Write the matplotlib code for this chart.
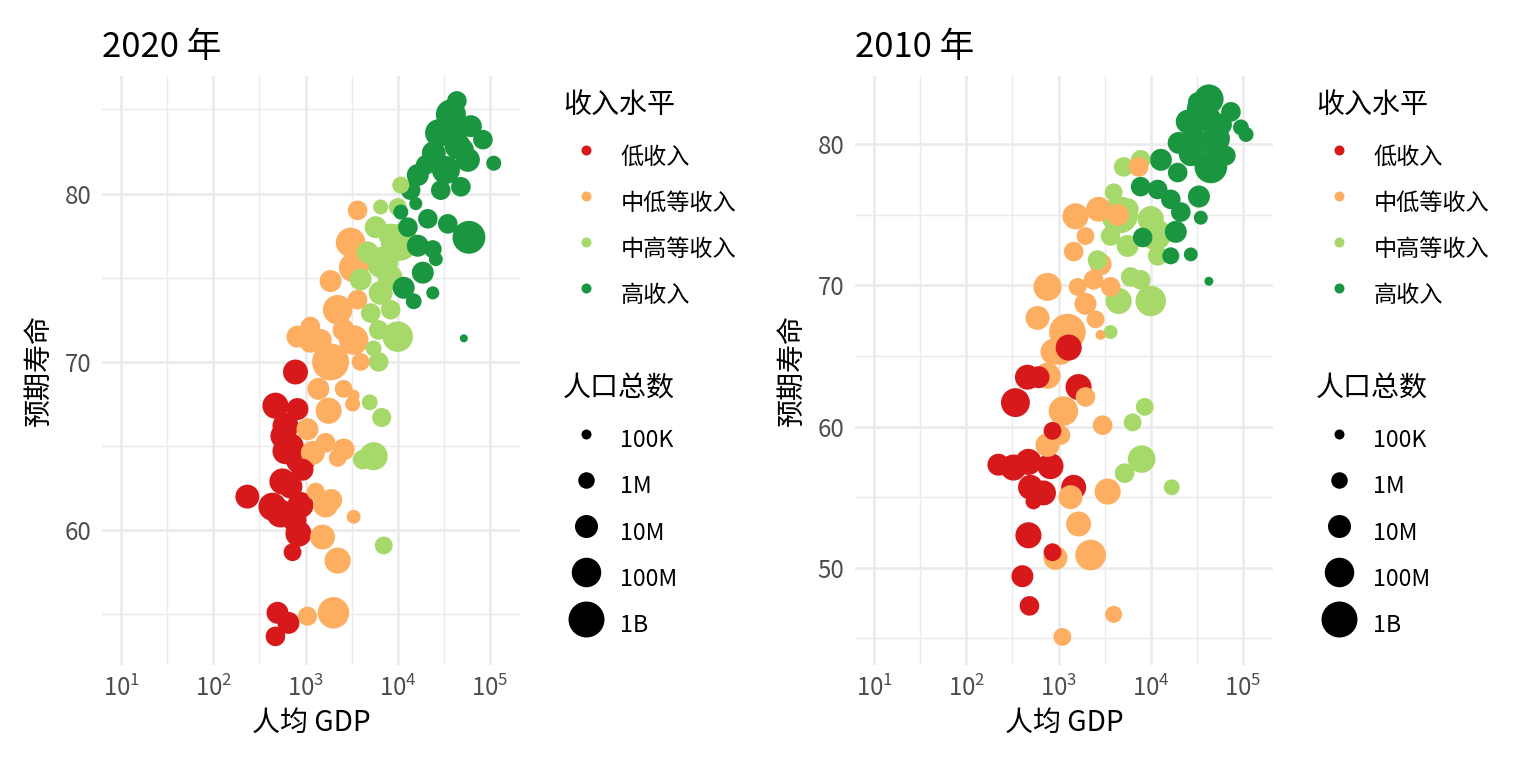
import numpy as np
import matplotlib.pyplot as plt
from matplotlib.lines import Line2D
from matplotlib.ticker import FixedLocator, NullFormatter

plt.rcParams['font.family'] = ['Noto Sans CJK SC', 'DejaVu Sans']
plt.rcParams['mathtext.default'] = 'regular'

levels = ['低收入', '中低等收入', '中高等收入', '高收入']
colors = ['#D7191C', '#FDAE61', '#A6D96A', '#1A9641']
pop_breaks_m = [0.1, 1, 10, 100, 1000]
pop_labels = ['100K', '1M', '10M', '100M', '1B']

# ---- 2020: 人均GDP, 预期寿命, 人口(百万), 收入水平(0=低 ... 3=高) ----
gdp_2020 = [
    # 高收入
    43800, 37700, 62100, 27900, 83900, 24600, 44900, 57700, 110000, 16500, 29300,
    48400, 13800, 15700, 21200, 34900, 59200, 12900, 16500, 25900, 18700, 11600,
    24000, 14900, 52100, 33300, 39600, 50900, 20100, 24000, 10800,
    # 中高等收入
    10800, 6530, 10000, 5770, 8390, 4720, 7050, 9060, 3960, 6530, 8390, 5090, 6210,
    10000, 6210, 5480, 4970, 6700, 5480, 4170, 7050, 10400, 6800, 8300,
    # 中低等收入
    3670, 3080, 3330, 1870, 2230, 3670, 1130, 818, 1130, 3330, 1870, 3960, 1380,
    2590, 3330, 3240, 1780, 1050, 1650, 2590, 2230, 1290, 1650, 3330, 1530, 2230,
    1050, 2010, 2590, 1460, 1200, 1900,
    # 低收入
    778, 472, 818, 607, 577, 607, 883, 927, 562, 234, 438, 535, 883, 687, 839, 723,
    497, 653, 472, 700, 760,
]
life_2020 = [
    85.5, 84.7, 84.0, 83.6, 83.2, 82.4, 82.8, 82.0, 81.8, 81.1, 80.2,
    80.4, 80.2, 79.4, 78.5, 78.2, 77.4, 78.0, 76.9, 76.1, 75.3, 74.4,
    74.1, 73.6, 71.4, 81.4, 83.5, 82.6, 81.7, 76.7, 78.9,
    80.5, 79.2, 79.2, 78.0, 77.5, 76.5, 75.7, 76.7, 74.9, 74.1, 73.1, 72.9, 71.9,
    71.5, 70.0, 70.8, 67.6, 66.7, 64.4, 64.2, 59.1, 77.1, 75.9, 75.0,
    79.0, 77.1, 75.6, 74.8, 73.1, 73.7, 72.1, 71.5, 71.2, 71.3, 70.0, 70.0, 68.4,
    68.4, 68.0, 67.5, 67.1, 66.0, 65.2, 64.8, 64.3, 62.3, 61.5, 60.8, 59.6, 58.2,
    54.9, 55.1, 71.9, 71.3, 64.6, 61.8,
    69.4, 67.4, 67.2, 66.2, 65.6, 64.7, 64.2, 63.6, 62.9, 62.0, 61.4, 61.0, 61.5, 62.6, 59.8, 58.7,
    55.1, 54.5, 53.7, 65.0, 60.6,
]
pop_2020 = [
    3, 120, 7, 50, 3, 14, 30, 14, 0.6, 7, 3,
    3, 3, 0.3, 3, 3, 330, 3, 7, 0.4, 7, 7,
    0.3, 0.8, 0.05, 60, 60, 7, 3, 1.6, 0.6,
    1.2, 0.6, 1.6, 7, 14, 7, 30, 3, 7, 14, 3, 3, 3,
    140, 3, 0.8, 0.8, 2.5, 60, 3, 1.6, 1400, 210, 20,
    3, 100, 100, 7, 100, 3, 3, 7, 7, 100, 1380, 1.6, 7,
    1.6, 0.2, 0.6, 30, 7, 3, 7, 1.6, 1.6, 20, 0.4, 20, 30,
    2.5, 200, 7, 7, 14, 7,
    20, 30, 7, 30, 30, 30, 100, 7, 30, 14, 60, 60, 30, 14, 30, 1.6,
    7, 7, 3, 20, 14,
]
level_2020 = [3] * 31 + [2] * 24 + [1] * 32 + [0] * 21

# ---- 2010 ----
gdp_2010 = [
    # 高收入
    42700, 32400, 74100, 25200, 41700, 20100, 29300, 48400, 95100, 108000, 44900,
    65300, 12900, 19600, 7780, 11900, 16500, 33300, 21200, 34900, 18700, 8180,
    16500, 27200, 42700, 57700, 34900, 27200, 50900,
    # 中高等收入
    5090, 7780, 3960, 5620, 10000, 3670, 5620, 11900, 2650, 6070, 7780, 4490, 10000,
    3670, 8610, 6370, 7980, 5210, 16900, 4600, 11300,
    # 中低等收入
    7410, 1530, 2720, 4380, 1460, 1960, 2860, 759, 1610, 2400, 3670, 592, 1250,
    1050, 2860, 883, 759, 1960, 1130, 1050, 759, 3010, 1350, 3410, 1650, 927, 2230,
    3960, 1100, 1960, 2520,
    # 低收入
    1290, 460, 607, 1650, 341, 861, 223, 324, 472, 818, 497, 687, 535, 1460, 861, 472,
    406, 484,
]
life_2010 = [
    83.2, 83.0, 82.3, 81.6, 81.8, 80.1, 80.4, 79.9, 81.2, 80.7, 78.4,
    79.2, 78.9, 78.0, 77.0, 76.8, 76.1, 76.3, 75.2, 74.8, 73.8, 73.4,
    72.1, 72.2, 70.3, 81.4, 82.5, 79.3, 80.4,
    78.4, 78.9, 76.6, 75.4, 74.7, 73.5, 72.8, 72.1, 71.8, 70.6, 70.4, 68.9, 68.9,
    66.7, 61.4, 60.3, 57.7, 56.7, 55.7, 75.0, 73.6,
    78.4, 74.9, 75.4, 75.0, 72.4, 73.5, 71.5, 69.9, 69.9, 70.4, 69.9, 67.7, 66.7,
    65.3, 66.5, 65.3, 63.6, 62.1, 61.1, 59.4, 58.7, 60.1, 55.0, 55.4, 53.1, 50.7, 50.9,
    46.7, 45.1, 68.7, 67.6,
    65.6, 63.5, 63.5, 62.8, 61.7, 59.7, 57.3, 57.1, 57.5, 57.2, 55.7, 55.3, 54.7, 55.7, 51.1, 52.3,
    49.4, 47.3,
]
pop_2010 = [
    100, 3, 3, 14, 30, 7, 14, 30, 0.8, 0.6, 310,
    3, 7, 3, 3, 3, 3, 7, 3, 0.4, 7, 3,
    1.2, 0.4, 0.07, 7, 60, 14, 60,
    3, 3, 1.6, 7, 30, 3, 7, 3, 3, 3, 3, 30, 140,
    0.4, 1.6, 1.6, 50, 3, 0.8, 1340, 195,
    3, 30, 20, 7, 3, 1.6, 7, 60, 1.6, 3, 3, 14, 1230,
    30, 0.1, 30, 30, 3, 100, 3, 14, 3, 14, 30, 20, 14, 150,
    1.2, 1.6, 7, 1.6,
    30, 20, 7, 30, 80, 1.6, 7, 30, 30, 30, 20, 20, 0.8, 20, 1.6, 30,
    7, 3,
]
level_2010 = [3] * 29 + [2] * 21 + [1] * 31 + [0] * 18

DPI = 192
W, H = 1536, 768


def diam(pop_m):
    # 人口(百万) -> 点直径(pt)
    px = 10 + 6.5 * (np.log10(np.asarray(pop_m, dtype=float) * 1e6) - 5)
    return px * 72 / DPI


fig = plt.figure(figsize=(W / DPI, H / DPI), dpi=DPI)


def draw_panel(left, title, gdp, life, pop, level, ylim, ymajor, yminor):
    ax = fig.add_axes([left / W, 103 / H, 418 / W, 589 / H])
    gdp = np.asarray(gdp, float)
    life = np.asarray(life, float)
    pop = np.asarray(pop, float)
    level = np.asarray(level)
    order = np.argsort(-pop, kind='stable')
    ax.scatter(gdp[order], life[order], s=diam(pop[order]) ** 2,
               c=np.array(colors)[level[order]], linewidths=0, zorder=3)
    ax.set_xscale('log')
    ax.set_xlim(10 ** 0.793, 10 ** 5.326)
    ax.set_ylim(*ylim)
    ax.xaxis.set_major_locator(FixedLocator([1e1, 1e2, 1e3, 1e4, 1e5]))
    ax.xaxis.set_minor_locator(FixedLocator([10 ** (k + 0.5) for k in range(1, 5)]))
    ax.xaxis.set_minor_formatter(NullFormatter())
    ax.yaxis.set_major_locator(FixedLocator(ymajor))
    ax.yaxis.set_minor_locator(FixedLocator(yminor))
    ax.grid(which='major', color='#EBEBEB', lw=1.0)
    ax.grid(which='minor', color='#EBEBEB', lw=0.55)
    ax.set_axisbelow(True)
    for s in ax.spines.values():
        s.set_visible(False)
    ax.tick_params(which='both', length=0, labelsize=9, labelcolor='#4D4D4D')
    ax.tick_params(axis='x', pad=4)
    ax.tick_params(axis='y', pad=4)
    ax.set_xlabel('人均 GDP', fontsize=10.5, labelpad=2)
    ax.set_ylabel('预期寿命', fontsize=10.5, labelpad=4)
    ax.set_title(title, loc='left', fontsize=13, pad=7)
    return ax


def draw_legends(x0):
    # x0: 图例标题左端 (像素)
    fig.text(x0 / W, 1 - 105 / H, '收入水平', fontsize=10.5, va='center', ha='left')
    fig.text(x0 / W, 1 - 389 / H, '人口总数', fontsize=10.5, va='center', ha='left')
    h1 = [Line2D([], [], ls='', marker='o', ms=10 * 72 / DPI, mfc=c, mec='none')
          for c in colors]
    h2 = [Line2D([], [], ls='', marker='o', ms=diam(p), mfc='black', mec='none')
          for p in pop_breaks_m]
    kw = dict(loc='upper left', frameon=False, fontsize=8.7, handlelength=2.0,
              handleheight=2.156, labelspacing=0.34, handletextpad=0.47,
              borderpad=0, borderaxespad=0)
    fig.legend(h1, levels, bbox_to_anchor=(x0 / W, 1 - 137 / H), **kw)
    fig.legend(h2, pop_labels, bbox_to_anchor=(x0 / W, 1 - 421 / H), **kw)


draw_panel(102, '2020 年', gdp_2020, life_2020, pop_2020, level_2020,
           (52.0, 86.98), [60, 70, 80], [55, 65, 75, 85])
draw_legends(563)
draw_panel(855, '2010 年', gdp_2010, life_2010, pop_2010, level_2010,
           (43.11, 84.84), [50, 60, 70, 80], [45, 55, 65, 75, 85])
draw_legends(1316)

fig.savefig('out.png', dpi=DPI)
